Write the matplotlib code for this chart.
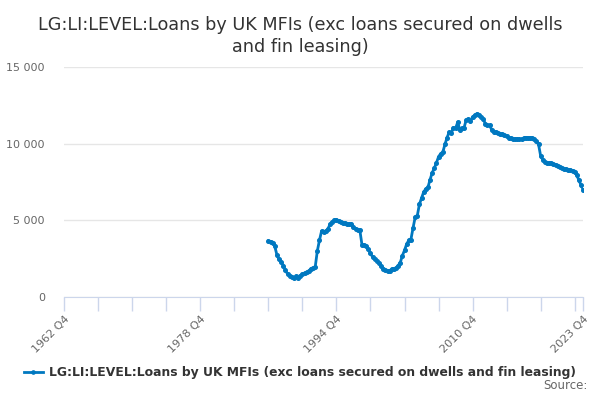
import matplotlib
matplotlib.use("Agg")
import matplotlib.pyplot as plt
from matplotlib.ticker import FuncFormatter

# Axis runs quarterly from 1962 Q4 to 2023 Q4; the series starts at 1986 Q4
first_year, last_year = 1962, 2023
series_start = "1986 Q4"
series_name = "LG:LI:LEVEL:Loans by UK MFIs (exc loans secured on dwells and fin leasing)"

# Quarterly values, 1986 Q4 .. 2023 Q4
values = [
    3650,
    3600, 3550, 3300, 2750,     # 1987
    2450, 2300, 2050, 1750,     # 1988
    1500, 1400, 1320, 1230,     # 1989
    1350, 1250, 1400, 1500,     # 1990
    1550, 1600, 1700, 1850,     # 1991
    1900, 1950, 3000, 3700,     # 1992
    4300, 4250, 4300, 4450,     # 1993
    4750, 4900, 5000, 5050,     # 1994
    4950, 4900, 4850, 4800,     # 1995
    4780, 4750, 4780, 4550,     # 1996
    4450, 4350, 4350, 3400,     # 1997
    3380, 3330, 3100, 2850,     # 1998
    2600, 2450, 2380, 2200,     # 1999
    2000, 1850, 1780, 1700,     # 2000
    1720, 1820, 1830, 1900,     # 2001
    2050, 2250, 2700, 3050,     # 2002
    3450, 3700, 3750, 4500,     # 2003
    5200, 5300, 6050, 6450,     # 2004
    6850, 7050, 7150, 7650,     # 2005
    8100, 8400, 8750, 9150,     # 2006
    9350, 9450, 9950, 10400,    # 2007
    10750, 10700, 11050, 11000, # 2008
    11400, 10900, 11000, 11050, # 2009
    11550, 11600, 11450, 11750, # 2010
    11850, 11950, 11900, 11750, # 2011
    11600, 11300, 11200, 11200, # 2012
    10900, 10780, 10750, 10680, # 2013
    10650, 10600, 10550, 10500, # 2014
    10400, 10350, 10320, 10300, # 2015
    10310, 10280, 10300, 10350, # 2016
    10400, 10400, 10380, 10380, # 2017
    10300, 10150, 9950, 9200,   # 2018
    8950, 8800, 8720, 8750,     # 2019
    8720, 8680, 8600, 8550,     # 2020
    8480, 8420, 8370, 8320,     # 2021
    8300, 8300, 8230, 8120,     # 2022
    7950, 7600, 7300, 7000,     # 2023
]

# category labels for every quarter on the axis
quarters = [f"{first_year} Q4"]
for y in range(first_year + 1, last_year + 1):
    quarters += [f"{y} Q{q}" for q in (1, 2, 3, 4)]

start = quarters.index(series_start)
xs = list(range(start, start + len(values)))

line_color = "#0078c0"
text_color = "#333333"
label_color = "#666666"

fig = plt.figure(figsize=(6, 4), dpi=100)
ax = fig.add_axes([0.107, 0.2575, 0.865, 0.575])

ax.plot(xs, values, color=line_color, lw=2, marker="o", ms=2.6,
        label=series_name, zorder=3)

ax.set_xlim(0, len(quarters) - 1)
ax.set_ylim(0, 15000)

# y axis: gridlines only
ax.set_yticks([0, 5000, 10000, 15000])
ax.yaxis.set_major_formatter(FuncFormatter(lambda v, p: f"{int(v):,}".replace(",", " ")))
ax.grid(axis="y", color="#e6e6e6", lw=1)
ax.set_axisbelow(True)
ax.tick_params(axis="y", length=0, pad=14, labelsize=8, labelcolor=label_color)

# x axis: tick every 16 quarters plus the last, labels every 64
last = len(quarters) - 1
ticks = list(range(0, last, 16)) + [last]
label_ticks = [0, 64, 128, 192, last]
ax.set_xticks(ticks)
ax.set_xticklabels([quarters[t] if t in label_ticks else "" for t in ticks],
                   rotation=45, ha="right", rotation_mode="anchor")
ax.tick_params(axis="x", length=10, width=1, color="#ccd6eb",
               labelsize=8, labelcolor=label_color, pad=2)

for s in ("top", "right", "left"):
    ax.spines[s].set_visible(False)
ax.spines["bottom"].set_color("#ccd6eb")

fig.text(0.5, 0.96, "LG:LI:LEVEL:Loans by UK MFIs (exc loans secured on dwells\nand fin leasing)",
         ha="center", va="top", fontsize=12.7, color=text_color, linespacing=1.25)

fig.legend(loc="center", bbox_to_anchor=(0.5, 0.068), frameon=False,
           prop={"size": 8.9, "weight": "bold"}, labelcolor=text_color,
           handlelength=1.6, handletextpad=0.5, markerscale=0.9)

fig.text(0.98, 0.02, "Source:", ha="right", va="bottom", fontsize=8.5, color=label_color)

fig.savefig("out.png", dpi=100)
